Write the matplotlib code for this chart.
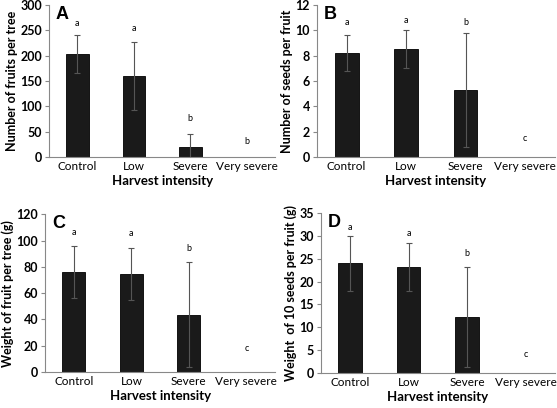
import numpy as np
import matplotlib.pyplot as plt

plt.rcParams['font.family'] = ['Lato', 'DejaVu Sans']

categories = ['Control', 'Low', 'Severe', 'Very severe']

fruits_mean = [203, 160, 20, 0]
fruits_err = [37, 67, 25, 0]
fruits_letters = ['a', 'a', 'b', 'b']
fruits_letter_y = [263, 253, 76, 31]

seeds_mean = [8.2, 8.5, 5.3, 0]
seeds_err = [1.45, 1.5, 4.5, 0]
seeds_letters = ['a', 'a', 'b', 'c']
seeds_letter_y = [10.6, 10.75, 10.65, 1.5]

weight_mean = [76, 74.5, 43.5, 0]
weight_err = [20, 19.5, 40, 0]
weight_letters = ['a', 'a', 'b', 'c']
weight_letter_y = [106, 105, 94, 17.7]

seedw_mean = [24, 23.2, 12.2, 0]
seedw_err = [6, 5.3, 11, 0]
seedw_letters = ['a', 'a', 'b', 'c']
seedw_letter_y = [31.8, 30.6, 26.1, 4.0]

panels = [
    ('A', fruits_mean, fruits_err, fruits_letters, fruits_letter_y,
     'Number of fruits per tree', 300, 50, [0.088, 0.615, 0.406, 0.373]),
    ('B', seeds_mean, seeds_err, seeds_letters, seeds_letter_y,
     'Number of seeds per fruit', 12, 2, [0.569, 0.615, 0.427, 0.373]),
    ('C', weight_mean, weight_err, weight_letters, weight_letter_y,
     'Weight of fruit per tree (g)', 120, 20, [0.081, 0.088, 0.413, 0.387]),
    ('D', seedw_mean, seedw_err, seedw_letters, seedw_letter_y,
     'Weight  of 10 seeds per fruit (g)', 35, 5, [0.576, 0.086, 0.420, 0.392]),
]

fig = plt.figure(figsize=(5.57, 4.08), dpi=100)

x = np.arange(len(categories))

for tag, mean, err, letters, letter_y, ylabel, ymax, step, rect in panels:
    ax = fig.add_axes(rect)
    mean = np.array(mean, dtype=float)
    err = np.array(err, dtype=float)
    keep = mean > 0
    ax.bar(x[keep], mean[keep], width=0.4, color='#1a1a1a',
           edgecolor='#000000', lw=0.6, zorder=2)
    ax.errorbar(x[keep], mean[keep], yerr=err[keep], fmt='none',
                ecolor='#555555', elinewidth=0.8,
                capsize=2, capthick=0.8, zorder=3)
    for xi, lt, ly in zip(x, letters, letter_y):
        ax.text(xi, ly, lt, ha='center', va='center', fontsize=6.5)
    ax.set_xlim(-0.5, 3.5)
    ax.set_ylim(0, ymax)
    ax.set_yticks(np.arange(0, ymax + step / 2, step))
    ax.set_xticks(x)
    ax.set_xticklabels(categories, fontsize=8.5)
    for lab in ax.get_yticklabels():
        lab.set_fontweight('bold')
        lab.set_fontsize(9)
    ax.set_ylabel(ylabel, fontsize=9, fontweight='bold', labelpad=2)
    ax.set_xlabel('Harvest intensity', fontsize=9.5, fontweight='bold',
                  labelpad=2)
    ax.spines['top'].set_visible(False)
    ax.spines['right'].set_visible(False)
    for s in ['left', 'bottom']:
        ax.spines[s].set_color('#888888')
        ax.spines[s].set_linewidth(0.8)
    ax.tick_params(axis='y', length=3, color='#888888', pad=2)
    ax.tick_params(axis='x', length=0, pad=3)
    ax.text(0.03, 0.995, tag, transform=ax.transAxes, fontsize=13,
            fontweight='bold', family='Liberation Sans', va='top', ha='left')

fig.savefig('out.png', dpi=100)
